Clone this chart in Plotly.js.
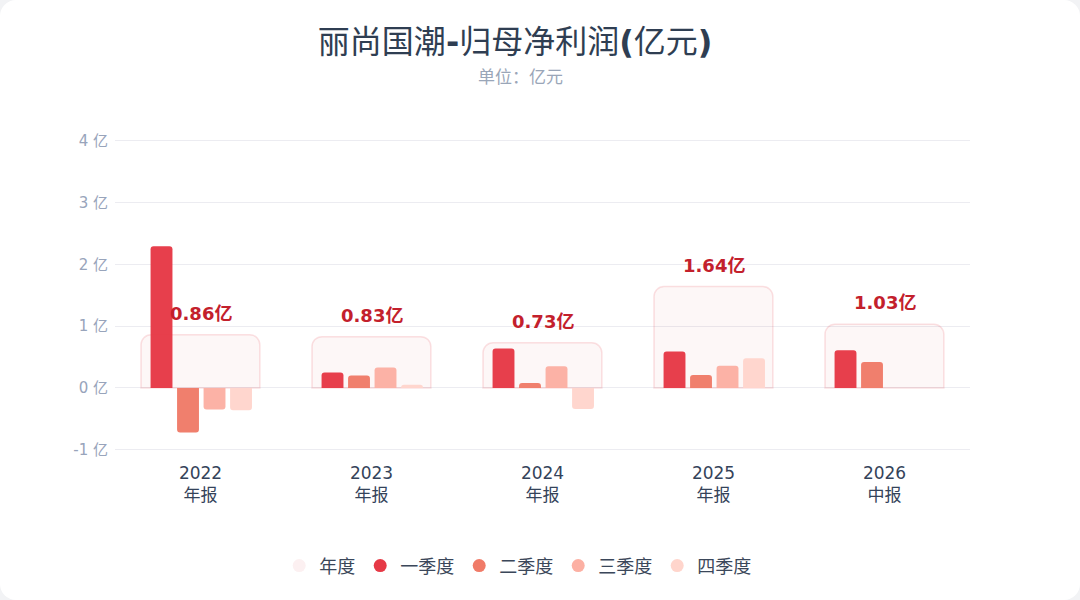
<!DOCTYPE html>
<html>
<head>
<meta charset="utf-8">
<script src="https://cdn.plot.ly/plotly-3.0.1.min.js"></script>
<style>
  html,body{margin:0;padding:0;background:#f2f3f5;}
  #chart{width:1080px;height:600px;border-radius:16px;overflow:hidden;background:#fff;}
</style>
</head>
<body>
<div id="chart"></div>
<script>
"use strict"

const periods = ["2022<br>年报", "2023<br>年报", "2024<br>年报", "2025<br>年报", "2026<br>中报"]
const annual = [0.86, 0.83, 0.73, 1.64, 1.03]
const annualLabels = ["0.86亿", "0.83亿", "0.73亿", "1.64亿", "1.03亿"]
const q1 = [2.29, 0.25, 0.64, 0.59, 0.61]
const q2 = [-0.72, 0.20, 0.08, 0.21, 0.42]
const q3 = [-0.35, 0.33, 0.35, 0.36, null]
const q4 = [-0.36, 0.05, -0.34, 0.48, null]
const yTicks = [-1, 0, 1, 2, 3, 4]
const yTickText = ["-1 亿", "0 亿", "1 亿", "2 亿", "3 亿", "4 亿"]

const font = "DejaVu Sans, Noto Sans CJK SC, sans-serif"
const colors = ["#e63946", "#f07b68", "#fcb0a3", "#ffd5cc"]
const quarterNames = ["一季度", "二季度", "三季度", "四季度"]
const quarters = [q1, q2, q3, q4]
const xIdx = periods.map((v,i)=>i)

// latin punctuation in the title is bold, the CJK part is not
const boldPart = s=>"<b><span style='font-family:DejaVu Sans'>" + s + "</span></b>"
const titleText = "丽尚国潮" + boldPart("-") + "归母净利润" + boldPart("(") + "亿元" + boldPart(")")

const annualTrace = {
  type: "bar",
  x: xIdx,
  y: annual,
  width: 0.695,
  offset: -0.348,
  marker: {
    color: "rgba(220,60,75,0.045)",
    line: {color: "rgba(230,57,70,0.15)", width: 1.5},
    cornerradius: 10,
  },
  hoverinfo: "skip",
  showlegend: false,
}

const quarterTraces = quarters.map((q,i)=>({
  type: "bar",
  x: xIdx,
  y: q,
  width: 0.128,
  offset: -0.292 + i*0.155,
  marker: {color: colors[i], opacity: 0.97, cornerradius: 3},
  name: quarterNames[i],
  showlegend: false,
}))

// legend entries drawn as circles
const legendTraces = [{name: "年度", color: "#fcf0f1"}]
  .concat(quarterNames.map((n,i)=>({name: n, color: colors[i]})))
  .map(v=>({
    type: "scatter",
    mode: "markers",
    x: [null],
    y: [null],
    name: v.name,
    marker: {color: v.color, size: 13, symbol: "circle"},
    hoverinfo: "skip",
  }))

const annotations = annual.map((v,i)=>({
  x: i,
  y: v,
  text: "<b>" + annualLabels[i] + "</b>",
  showarrow: false,
  yanchor: "bottom",
  yshift: 9,
  font: {family: font, size: 18, color: "#c3202c"},
})).concat([
  {
    xref: "paper", yref: "paper", x: 0.474, y: 1.138,
    xanchor: "center", yanchor: "middle",
    text: "单位：亿元", showarrow: false,
    font: {family: "Noto Sans CJK SC, sans-serif", size: 17, color: "#9aa6b8"},
  },
])

const layout = {
  width: 1080,
  height: 600,
  paper_bgcolor: "rgba(0,0,0,0)",
  plot_bgcolor: "#fff",
  margin: {l: 115, r: 110, t: 122, b: 144},
  barmode: "overlay",
  title: {
    text: titleText,
    x: 0.477,
    xanchor: "center",
    y: 0.93,
    yanchor: "middle",
    font: {family: "Noto Sans CJK SC, DejaVu Sans, sans-serif", size: 32, color: "#2f3e52"},
  },
  font: {family: font},
  xaxis: {
    tickmode: "array",
    tickvals: xIdx,
    ticktext: periods,
    range: [-0.5, 4.5],
    showgrid: false,
    zeroline: false,
    showline: false,
    ticks: "",
    ticklabelstandoff: 5,
    tickfont: {family: font, size: 17, color: "#34435a"},
    fixedrange: true,
  },
  yaxis: {
    range: [-1.1, 4.3],
    tickmode: "array",
    tickvals: yTicks,
    ticktext: yTickText,
    gridcolor: "#ececf1",
    gridwidth: 1,
    zeroline: true,
    zerolinecolor: "#ececf1",
    zerolinewidth: 1,
    showline: false,
    ticks: "",
    ticklen: 0,
    ticklabelstandoff: 6,
    tickfont: {family: font, size: 15, color: "#98a4bb"},
    fixedrange: true,
  },
  legend: {
    orientation: "h",
    x: 0.471,
    xanchor: "center",
    y: -0.329,
    yanchor: "middle",
    font: {family: font, size: 18, color: "#3b475a"},
    itemwidth: 30,
  },
  annotations: annotations,
  showlegend: true,
}

Plotly.newPlot("chart", [annualTrace].concat(quarterTraces, legendTraces), layout, {displayModeBar: false, staticPlot: true})
</script>
</body>
</html>
